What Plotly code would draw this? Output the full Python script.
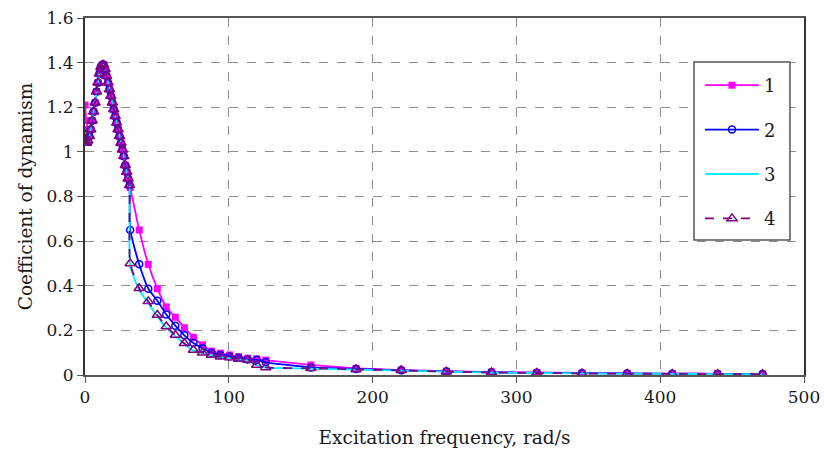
import plotly.graph_objects as go

# ---- data ----
x_dense = [0, 1, 2, 3, 4, 5, 6, 7, 8, 9, 10, 11, 12, 13, 14, 15, 16, 17, 18, 19,
           20, 21, 22, 23, 24, 25, 26, 27, 28, 29, 30, 31]
x_tail = [31.4, 37.7, 44.0, 50.3, 56.5, 62.8, 69.1, 75.4, 81.7, 88.0, 94.2, 100.5,
          106.8, 113.1, 119.4, 125.7, 157.1, 188.5, 219.9, 251.3, 282.7, 314.2,
          345.6, 377.0, 408.4, 439.8, 471.2]
freq = x_dense + x_tail

base_dense = [1.04, 1.04, 1.05, 1.07, 1.10, 1.14, 1.18, 1.22, 1.27, 1.31, 1.35, 1.38,
              1.39, 1.39, 1.37, 1.34, 1.31, 1.28, 1.25, 1.22, 1.19, 1.16, 1.13, 1.10,
              1.07, 1.04, 1.01, 0.98, 0.94, 0.91, 0.88, 0.85]

s1 = [1.21, 1.14, 1.10, 1.08] + base_dense[4:] + [
    0.84, 0.65, 0.496, 0.387, 0.305, 0.259, 0.212, 0.169, 0.135, 0.107, 0.098, 0.090,
    0.082, 0.075, 0.072, 0.067, 0.045, 0.030, 0.022, 0.017, 0.013, 0.011,
    0.009, 0.007, 0.006, 0.005, 0.004]
s2 = [1.08, 1.06, 1.05] + base_dense[3:] + [
    0.65, 0.496, 0.387, 0.333, 0.271, 0.221, 0.178, 0.143, 0.120, 0.100, 0.090, 0.083,
    0.077, 0.070, 0.068, 0.057, 0.034, 0.027, 0.021, 0.016, 0.012, 0.010,
    0.008, 0.007, 0.006, 0.005, 0.004]
s3 = base_dense + [
    0.49, 0.38, 0.322, 0.262, 0.211, 0.174, 0.138, 0.109, 0.098, 0.088, 0.080, 0.075,
    0.070, 0.065, 0.044, 0.033, 0.029, 0.024, 0.020, 0.015, 0.011, 0.009,
    0.007, 0.006, 0.005, 0.004, 0.003]
s4 = base_dense + [
    0.50, 0.389, 0.330, 0.269, 0.217, 0.179, 0.142, 0.112, 0.100, 0.090, 0.082, 0.078,
    0.072, 0.067, 0.045, 0.034, 0.030, 0.025, 0.021, 0.015, 0.011, 0.009,
    0.007, 0.006, 0.005, 0.004, 0.003]

names = ["1", "2", "3", "4"]

FONT = "DejaVu Serif"

fig = go.Figure()
fig.add_trace(go.Scatter(x=freq, y=s1, name=names[0], legendgroup="a",
                         mode="lines+markers",
                         line=dict(color="#FF00FF", width=1.8, shape="spline", smoothing=0.5),
                         marker=dict(symbol="square", size=7, color="#FF00FF")))
fig.add_trace(go.Scatter(x=freq, y=s2, name=names[1], legendgroup="b",
                         mode="lines+markers",
                         line=dict(color="#0000FF", width=1.8, shape="spline", smoothing=0.5),
                         marker=dict(symbol="circle-open", size=7, color="#0000FF",
                                     line=dict(width=1.5))))
fig.add_trace(go.Scatter(x=freq, y=s3, name=names[2], legendgroup="c",
                         mode="lines",
                         line=dict(color="#00F0FF", width=1.8, shape="spline", smoothing=0.5)))
fig.add_trace(go.Scatter(x=freq, y=s4, name=names[3], legendgroup="d",
                         mode="lines+markers",
                         line=dict(color="#800080", width=1.8, dash="dash", shape="spline",
                                   smoothing=0.5),
                         marker=dict(symbol="triangle-up-open", size=9, color="#800080",
                                     line=dict(width=1.5))))

# legend frame drawn as a shape (paper coordinates)
fig.add_shape(type="rect", xref="paper", yref="paper",
              x0=0.847, x1=0.9805, y0=0.378, y1=0.8768,
              line=dict(color="#555555", width=1.5), fillcolor="white", layer="above")

fig.update_layout(
    width=824, height=454,
    margin=dict(l=85, r=20, t=18, b=79),
    paper_bgcolor="white", plot_bgcolor="white",
    font=dict(family=FONT, size=17, color="#1a1a1a"),
    showlegend=True,
    legend=dict(x=0.8553, y=0.8627, xanchor="left", yanchor="top",
                borderwidth=0, bgcolor="rgba(0,0,0,0)",
                font=dict(family=FONT, size=18), tracegroupgap=18,
                itemwidth=54),
    xaxis=dict(range=[0, 500], dtick=100, showgrid=True, gridcolor="#8c8c8c",
               griddash="dash", gridwidth=1, zeroline=False, automargin=False,
               showline=True, linecolor="#555555", linewidth=2, mirror=True,
               ticks="outside", ticklen=6, tickcolor="#555555",
               title=dict(text="Excitation frequency, rad/s", standoff=25,
                          font=dict(family=FONT, size=18.5))),
    yaxis=dict(range=[0, 1.6], dtick=0.2, showgrid=True, gridcolor="#8c8c8c",
               griddash="dash", gridwidth=1, zeroline=False, automargin=False,
               showline=True, linecolor="#333333", linewidth=2, mirror=True,
               ticks="outside", ticklen=6, tickcolor="#555555",
               tickformat="~g",
               title=dict(text="Coefficient of dynamism", standoff=9,
                          font=dict(family=FONT, size=18.5))),
)

fig.write_html("out.html", config={"displayModeBar": False},
               post_script="document.body.style.margin='0';")
